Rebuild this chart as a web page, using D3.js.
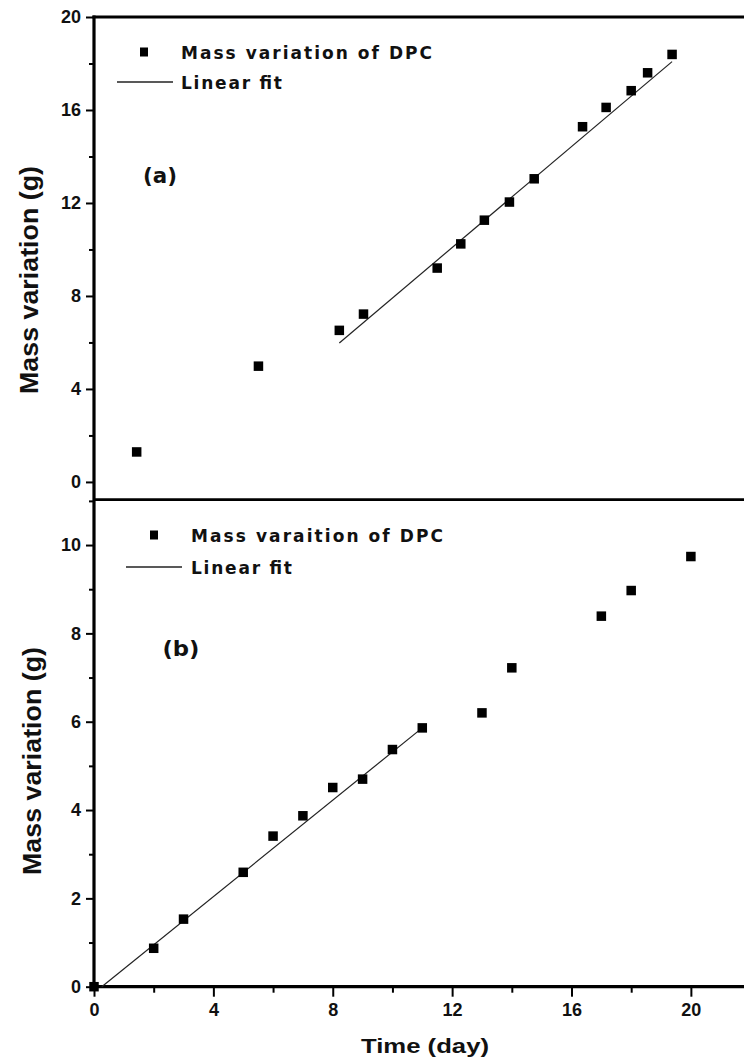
<!DOCTYPE html>
<html>
<head>
<meta charset="utf-8">
<script src="https://cdn.jsdelivr.net/npm/d3@7"></script>
<style>
  html, body { margin: 0; padding: 0; background: #fff; }
  svg { display: block; }
  text { font-family: "Liberation Sans", Arial, sans-serif; fill: #111; }
</style>
</head>
<body>
<svg id="chart" width="744" height="1062"></svg>
<script>
// ---- Data ----
// Panel (a)
const timeA = [1.43, 5.51, 8.22, 9.03, 11.5, 12.29, 13.08, 13.92, 14.75, 16.37, 17.16, 18.0, 18.55, 19.37];
const massA = [1.29, 4.98, 6.52, 7.22, 9.2, 10.24, 11.26, 12.04, 13.04, 15.28, 16.11, 16.83, 17.6, 18.39];
const fitTimeA = [8.22, 19.37];
const fitMassA = [5.98, 18.08];
// Panel (b)
const timeB = [0, 2, 3, 5, 6, 7, 8, 9, 10, 11, 13, 14, 17, 18, 20];
const massB = [0, 0.87, 1.53, 2.59, 3.41, 3.87, 4.51, 4.70, 5.37, 5.86, 6.20, 7.22, 8.39, 8.97, 9.74];
const fitTimeB = [0.26, 11];
const fitMassB = [0, 5.86];
// Ticks
const xMajorTicks = [0, 4, 8, 12, 16, 20];
const xMinorTicks = [2, 6, 10, 14, 18];
const yMajorTicksA = [0, 4, 8, 12, 16, 20];
const yMinorTicksA = [2, 6, 10, 14, 18];
const yMajorTicksB = [0, 2, 4, 6, 8, 10];
const yMinorTicksB = [1, 3, 5, 7, 9, 11];
// Texts
const legendPointA = "Mass variation of DPC";
const legendPointB = "Mass varaition of DPC";
const legendFit = "Linear fit";
const panelLabels = ["(a)", "(b)"];
const yTitle = "Mass variation (g)";
const xTitle = "Time (day)";

// ---- Layout ----
const svg = d3.select("#chart");
svg.append("rect").attr("width", 744).attr("height", 1062).attr("fill", "#fff");

const x = d3.scaleLinear().domain([0, 21.78]).range([94, 744]);
const yA = d3.scaleLinear().domain([-0.76, 20]).range([499.6, 17]);
const yB = d3.scaleLinear().domain([0, 11.02]).range([986.7, 500]);

const axisColor = "#000";
const legendFont = '"DejaVu Sans", Verdana, sans-serif';

function styleAxis(g) {
  g.selectAll("path.domain").remove();
  g.selectAll(".tick line").attr("stroke", axisColor).attr("stroke-width", 2);
  g.selectAll(".tick text")
    .style("font-family", '"Liberation Sans", Arial, sans-serif')
    .style("font-size", "18px")
    .style("font-weight", "bold")
    .attr("fill", "#1a1a1a");
}

// Panel (a) left axis
svg.append("g").attr("transform", "translate(94,0)")
  .call(d3.axisLeft(yA).tickValues(yMajorTicksA).tickSize(8).tickPadding(5).tickFormat(d3.format("d")))
  .call(styleAxis);
svg.append("g").attr("transform", "translate(94,0)")
  .call(d3.axisLeft(yA).tickValues(yMinorTicksA).tickSize(5).tickFormat(""))
  .call(styleAxis);

// Panel (b) left axis
svg.append("g").attr("transform", "translate(94,0)")
  .call(d3.axisLeft(yB).tickValues(yMajorTicksB).tickSize(8).tickPadding(5).tickFormat(d3.format("d")))
  .call(styleAxis);
svg.append("g").attr("transform", "translate(94,0)")
  .call(d3.axisLeft(yB).tickValues(yMinorTicksB).tickSize(5).tickFormat(""))
  .call(styleAxis);

// Bottom x axis
svg.append("g").attr("transform", `translate(0,${yB(0)})`)
  .call(d3.axisBottom(x).tickValues(xMajorTicks).tickSize(10).tickPadding(7).tickFormat(d3.format("d")))
  .call(styleAxis);
svg.append("g").attr("transform", `translate(0,${yB(0)})`)
  .call(d3.axisBottom(x).tickValues(xMinorTicks).tickSize(6).tickFormat(""))
  .call(styleAxis);

// Axis lines / frame
const x0 = x.range()[0], x1 = x.range()[1];
svg.append("line").attr("x1", x0).attr("x2", x0).attr("y1", yA.range()[1] - 1.5).attr("y2", yB(0) + 1.5)
  .attr("stroke", axisColor).attr("stroke-width", 3.2);
svg.append("line").attr("x1", x0 - 1.5).attr("x2", x1).attr("y1", yA(20)).attr("y2", yA(20))
  .attr("stroke", axisColor).attr("stroke-width", 3);
svg.append("line").attr("x1", x0).attr("x2", x1).attr("y1", yA.range()[0]).attr("y2", yA.range()[0])
  .attr("stroke", axisColor).attr("stroke-width", 2.6);
svg.append("line").attr("x1", x0 - 1.5).attr("x2", x1).attr("y1", yB(0)).attr("y2", yB(0))
  .attr("stroke", axisColor).attr("stroke-width", 3.2);

// ---- Marks ----
const ms = 9.5;
function drawPanel(times, masses, fitT, fitM, yScale) {
  const fitData = fitT.map((t, i) => [t, fitM[i]]);
  svg.append("path").datum(fitData)
    .attr("d", d3.line().x(d => x(d[0])).y(d => yScale(d[1])))
    .attr("fill", "none").attr("stroke", "#222").attr("stroke-width", 1.2);
  const pts = times.map((t, i) => [t, masses[i]]);
  svg.append("g").selectAll("rect").data(pts).join("rect")
    .attr("x", d => x(d[0]) - ms / 2)
    .attr("y", d => yScale(d[1]) - ms / 2)
    .attr("width", ms).attr("height", ms)
    .attr("fill", "#000");
}
drawPanel(timeA, massA, fitTimeA, fitMassA, yA);
drawPanel(timeB, massB, fitTimeB, fitMassB, yB);

// ---- Legends ----
function legend(mx, my, lineX1, lineX2, ly, tx, label1, len1, len2) {
  svg.append("rect").attr("x", mx - 4).attr("y", my - 4.5).attr("width", 8).attr("height", 9).attr("fill", "#000");
  svg.append("line").attr("x1", lineX1).attr("x2", lineX2).attr("y1", ly).attr("y2", ly)
    .attr("stroke", "#222").attr("stroke-width", 1.6);
  svg.append("text").attr("x", tx).attr("y", my + 6.5).text(label1)
    .style("font-family", legendFont)
    .style("font-size", "17px").style("font-weight", "bold").attr("fill", "#222")
    .attr("textLength", len1).attr("lengthAdjust", "spacing");
  svg.append("text").attr("x", tx).attr("y", ly + 6.5).text(legendFit)
    .style("font-family", legendFont)
    .style("font-size", "17px").style("font-weight", "bold").attr("fill", "#222")
    .attr("textLength", len2).attr("lengthAdjust", "spacing");
}
legend(144, 52, 117, 173, 82, 181, legendPointA, 251, 101);
legend(154, 535, 126, 182, 567, 191, legendPointB, 252, 101);

// Panel labels
svg.append("text").attr("x", 160).attr("y", 183).attr("text-anchor", "middle").text(panelLabels[0])
  .style("font-family", legendFont)
  .style("font-size", "21px").style("font-weight", "bold").attr("fill", "#222")
  .attr("textLength", 34).attr("lengthAdjust", "spacingAndGlyphs");
svg.append("text").attr("x", 181).attr("y", 656).attr("text-anchor", "middle").text(panelLabels[1])
  .style("font-family", legendFont)
  .style("font-size", "21px").style("font-weight", "bold").attr("fill", "#222")
  .attr("textLength", 37).attr("lengthAdjust", "spacingAndGlyphs");

// Axis titles
function yTitleAt(cx, cy) {
  svg.append("text").attr("transform", `translate(${cx},${cy}) rotate(-90)`)
    .attr("text-anchor", "middle").text(yTitle)
    .style("font-size", "26px").style("font-weight", "bold")
    .attr("textLength", 228).attr("lengthAdjust", "spacingAndGlyphs");
}
yTitleAt(38, 280);
yTitleAt(41, 761);

svg.append("text").attr("x", 425).attr("y", 1053).attr("text-anchor", "middle").text(xTitle)
  .style("font-size", "21px").style("font-weight", "bold")
  .attr("textLength", 128).attr("lengthAdjust", "spacingAndGlyphs");
</script>
</body>
</html>
